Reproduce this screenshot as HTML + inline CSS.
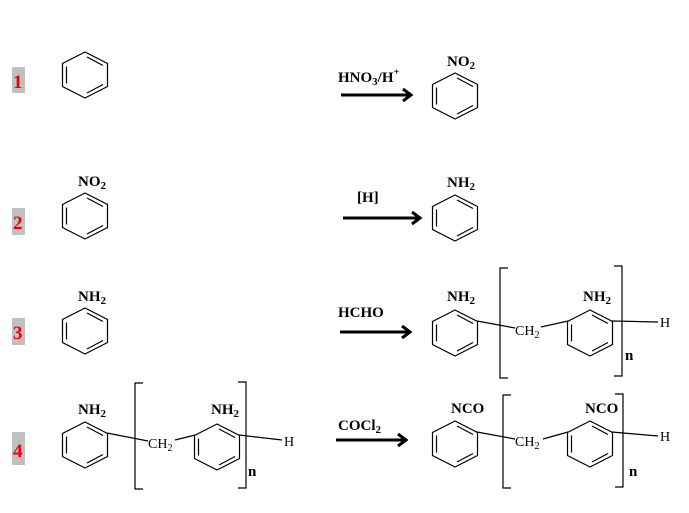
<!DOCTYPE html>
<html><head><meta charset="utf-8"><style>
html,body{margin:0;padding:0;background:#fff}
svg text{font-family:"Liberation Serif",serif}
.b{font-weight:bold;font-size:15px}
.num{font-weight:bold;font-size:19px;fill:#e00}
</style></head><body>
<svg width="689" height="508" viewBox="0 0 689 508" xmlns="http://www.w3.org/2000/svg">
<defs>
<g id="r" fill="none" stroke="#000" stroke-width="1.2">
<polygon points="0,-23 22.5,-11.5 22.5,11.5 0,23 -22.5,11.5 -22.5,-11.5"/>
<line x1="2" y1="-18" x2="18" y2="-9.5"/>
<line x1="-18.5" y1="-8.5" x2="-18.5" y2="8.5"/>
<line x1="2" y1="18" x2="18" y2="9.5"/>
</g>
<g id="ar"><line x1="0" y1="0" x2="-70" y2="0" stroke="#000" stroke-width="3"/><polyline points="-8,-6 0,0 -8,6" fill="none" stroke="#000" stroke-width="3"/></g>
</defs>
<!-- numbers -->
<rect x="12" y="67" width="13" height="26" fill="#c0c0c0"/><text class="num" x="13" y="88">1</text>
<rect x="12" y="208" width="13" height="27" fill="#c0c0c0"/><text class="num" x="13" y="229">2</text>
<rect x="12" y="318" width="13" height="27" fill="#c0c0c0"/><text class="num" x="13" y="339">3</text>
<rect x="12" y="432" width="13" height="33" fill="#c0c0c0"/><text class="num" x="13" y="457">4</text>

<!-- row 1 -->
<use href="#r" x="85" y="75"/>
<text class="b" x="338" y="82">HNO<tspan font-size="11" dy="3">3</tspan><tspan dy="-3">/H</tspan><tspan font-size="10" dy="-7">+</tspan></text>
<use href="#ar" x="411" y="95"/>
<use href="#r" x="455" y="96"/>
<text class="b" x="447" y="66">NO<tspan font-size="11" dy="3">2</tspan></text>

<!-- row 2 -->
<use href="#r" x="85" y="216"/>
<text class="b" x="78" y="186">NO<tspan font-size="11" dy="3">2</tspan></text>
<text class="b" x="357" y="202">[H]</text>
<use href="#ar" x="420" y="218"/>
<line x1="343" y1="218" x2="352" y2="218" stroke="#000" stroke-width="3"/>
<use href="#r" x="455" y="218"/>
<text class="b" x="447" y="187">NH<tspan font-size="11" dy="3">2</tspan></text>

<!-- row 3 -->
<use href="#r" x="85" y="331"/>
<text class="b" x="78" y="301">NH<tspan font-size="11" dy="3">2</tspan></text>
<text class="b" x="338" y="317">HCHO</text>
<use href="#ar" x="410" y="332"/>
<use href="#r" x="455" y="333"/>
<text class="b" x="447" y="301">NH<tspan font-size="11" dy="3">2</tspan></text>
<use href="#r" x="590" y="333"/>
<text class="b" x="583" y="301">NH<tspan font-size="11" dy="3">2</tspan></text>
<g stroke="#000" stroke-width="1.2" fill="none">
<line x1="477" y1="321" x2="515" y2="328"/>
<line x1="541" y1="327" x2="568" y2="321"/>
<line x1="612" y1="321" x2="658" y2="322"/>
<polyline points="508,268 500,268 500,378 508,378"/>
<polyline points="614,266 622,266 622,376 614,376"/>
</g>
<text x="515" y="335" font-size="14">CH<tspan font-size="10" dy="3">2</tspan></text>
<text x="660" y="327" font-size="14">H</text>
<text class="b" x="625" y="360">n</text>

<!-- row 4 reactant -->
<use href="#r" x="85" y="445"/>
<text class="b" x="78" y="414">NH<tspan font-size="11" dy="3">2</tspan></text>
<use href="#r" x="217" y="447"/>
<text class="b" x="211" y="414">NH<tspan font-size="11" dy="3">2</tspan></text>
<g stroke="#000" stroke-width="1.2" fill="none">
<line x1="107" y1="433" x2="148" y2="441"/>
<line x1="175" y1="440" x2="195" y2="435"/>
<line x1="239" y1="435" x2="282" y2="440"/>
<polyline points="143,383 135,383 135,489 143,489"/>
<polyline points="238,382 246,382 246,488 238,488"/>
</g>
<text x="148" y="448" font-size="14">CH<tspan font-size="10" dy="3">2</tspan></text>
<text x="284" y="446" font-size="14">H</text>
<text class="b" x="248" y="476">n</text>

<!-- row 4 product -->
<text class="b" x="338" y="430">COCl<tspan font-size="11" dy="3">2</tspan></text>
<use href="#ar" x="406" y="440"/>
<use href="#r" x="455" y="444"/>
<text class="b" x="451" y="413">NCO</text>
<use href="#r" x="590" y="444"/>
<text class="b" x="585" y="413">NCO</text>
<g stroke="#000" stroke-width="1.2" fill="none">
<line x1="477" y1="432" x2="515" y2="439"/>
<line x1="543" y1="439" x2="568" y2="432"/>
<line x1="612" y1="432" x2="658" y2="436"/>
<polyline points="511,395 503,395 503,488 511,488"/>
<polyline points="615,394 623,394 623,487 615,487"/>
</g>
<text x="515" y="446" font-size="14">CH<tspan font-size="10" dy="3">2</tspan></text>
<text x="660" y="441" font-size="14">H</text>
<text class="b" x="629" y="476">n</text>
</svg>
</body></html>
